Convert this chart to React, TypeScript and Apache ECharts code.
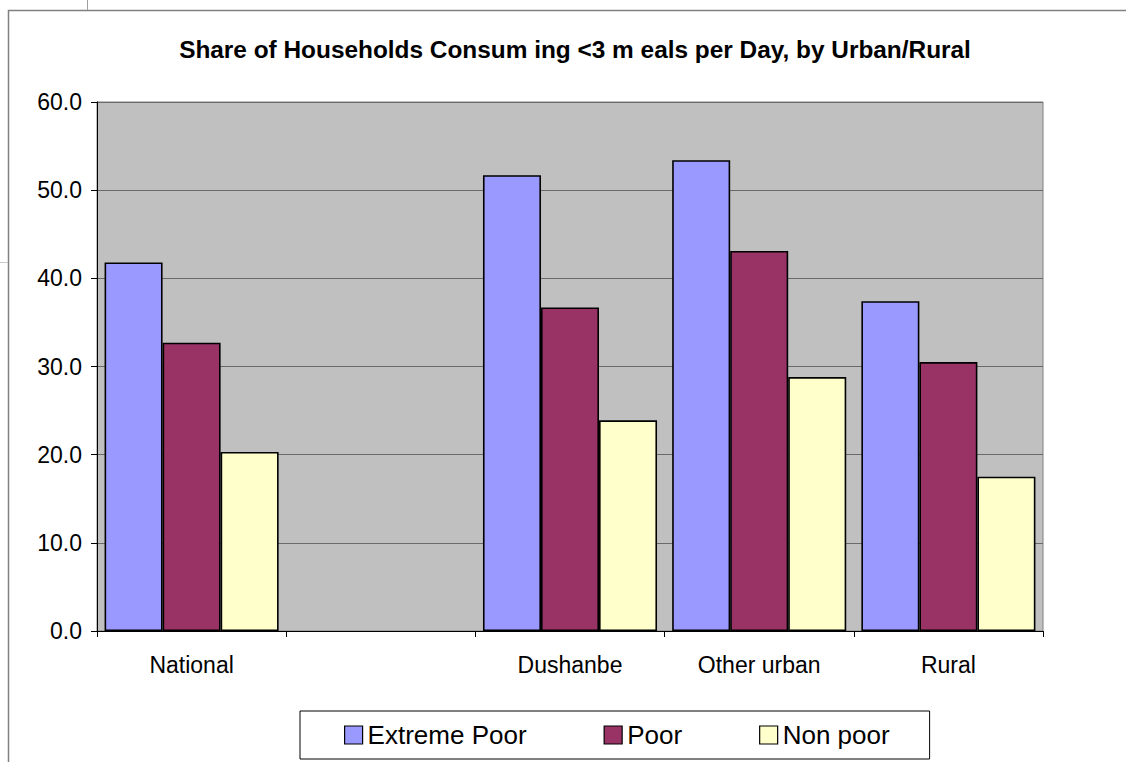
import React, { useEffect, useRef } from "react";
import * as echarts from "echarts";

const categories = ["National", "", "Dushanbe", "Other urban", "Rural"];
const extremePoor = [41.8, null, 51.7, 53.4, 37.4];
const poor = [32.7, null, 36.7, 43.1, 30.5];
const nonPoor = [20.3, null, 23.9, 28.8, 17.5];
const yTicks = [0, 10, 20, 30, 40, 50, 60];
const seriesNames = ["Extreme Poor", "Poor", "Non poor"];
const seriesColors = ["#9999FF", "#993366", "#FFFFCC"];

const FONT = "'Liberation Sans', Arial, sans-serif";

export default function App() {
  const ref = useRef<HTMLDivElement>(null);
  useEffect(() => {
    if (!ref.current) return;
    const chart = echarts.init(ref.current, null, { renderer: "svg" });
    const values = [extremePoor, poor, nonPoor];
    const option = {
      animation: false,
      backgroundColor: "#ffffff",
      textStyle: { fontFamily: FONT },
      graphic: [
        {
          type: "rect",
          shape: { x: 8.5, y: 10.5, width: 1300, height: 900 },
          style: { fill: "#ffffff", stroke: "#808080", lineWidth: 1.5 },
          z: -10,
          silent: true,
        },
        {
          type: "line",
          shape: { x1: 87.5, y1: 0, x2: 87.5, y2: 10 },
          style: { stroke: "#a0a0a0", lineWidth: 1 },
          silent: true,
        },
        {
          type: "line",
          shape: { x1: 0, y1: 262.5, x2: 8, y2: 262.5 },
          style: { stroke: "#c8c8c8", lineWidth: 1 },
          silent: true,
        },
      ],
      title: {
        text: "Share of Households Consum ing <3 m eals per Day, by Urban/Rural",
        left: 575,
        textAlign: "center",
        top: 37,
        padding: 0,
        textStyle: {
          fontFamily: FONT,
          fontSize: 24.4,
          fontWeight: "bold",
          color: "#000000",
        },
      },
      legend: {
        data: seriesNames,
        left: 300,
        top: 711,
        orient: "horizontal",
        backgroundColor: "#ffffff",
        borderColor: "#000000",
        borderWidth: 1,
        padding: [11, 40, 11, 44],
        itemWidth: 18,
        itemHeight: 18,
        itemGap: 77,
        icon: "rect",
        textStyle: { fontFamily: FONT, fontSize: 26, color: "#000000" },
        itemStyle: { borderColor: "#000000", borderWidth: 1.2 },
      },
      grid: {
        left: 97,
        right: 83,
        top: 102,
        bottom: 131,
        show: true,
        backgroundColor: "#C0C0C0",
        borderColor: "#808080",
        borderWidth: 1,
        containLabel: false,
      },
      xAxis: {
        type: "category",
        data: categories,
        axisLine: { show: true, lineStyle: { color: "#000000", width: 1 } },
        axisTick: { show: true, length: 6, lineStyle: { color: "#000000" } },
        axisLabel: {
          fontFamily: FONT,
          fontSize: 23,
          color: "#000000",
          margin: 22,
          interval: 0,
        },
      },
      yAxis: {
        type: "value",
        min: yTicks[0],
        max: yTicks[yTicks.length - 1],
        interval: 10,
        axisLine: { show: true, lineStyle: { color: "#000000", width: 1 } },
        axisTick: { show: true, length: 6, lineStyle: { color: "#000000" } },
        axisLabel: {
          fontFamily: FONT,
          fontSize: 23,
          color: "#000000",
          margin: 15,
          formatter: (v: number) => v.toFixed(1),
        },
        splitLine: { show: true, lineStyle: { color: "#6a6a6a", width: 1.2 } },
      },
      series: seriesNames.map((name, i) => ({
        name,
        type: "bar",
        data: values[i],
        barGap: "0%",
        barCategoryGap: "8%",
        itemStyle: {
          color: seriesColors[i],
          borderColor: "#000000",
          borderWidth: 1.6,
        },
      })),
    };
    chart.setOption(option as any);
    return () => chart.dispose();
  }, []);
  return (
    <div
      ref={ref}
      style={{ position: "fixed", left: 0, top: 0, width: 1126, height: 762 }}
    />
  );
}
